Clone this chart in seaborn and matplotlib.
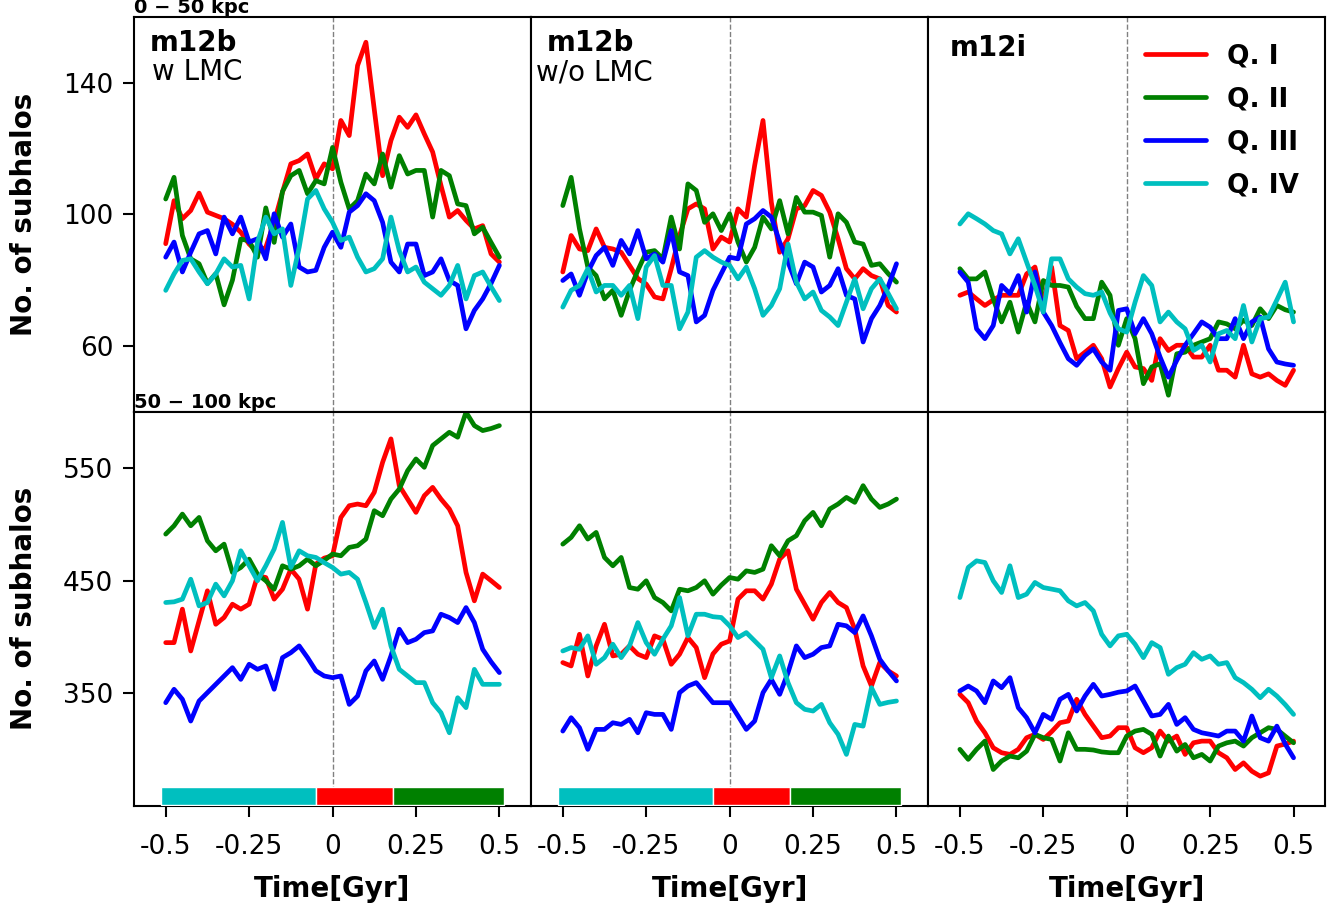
import numpy as np
import pandas as pd
import matplotlib
matplotlib.use("Agg")
import matplotlib.pyplot as plt
import seaborn as sns

# ---------------- data ----------------
TIME = np.linspace(-0.5, 0.5, 41)
QUADS = ["Q. I", "Q. II", "Q. III", "Q. IV"]
PALETTE = {"Q. I": "#ff0000", "Q. II": "#008000", "Q. III": "#0000ff", "Q. IV": "#00bfbf"}

# 0-50 kpc, m12b with LMC
tl_q1 = [91.1, 104.2, 98.7, 101.2, 106.5, 100.7, 99.7, 98.7, 97.0, 94.6, 91.0, 88.5, 90.0, 97.6, 106.8, 115.4, 116.4, 118.4, 110.8, 115.4, 113.9, 128.6, 124.0, 145.3, 152.4, 132.0, 111.8, 122.5, 129.6, 126.5, 130.3, 124.5, 119.0, 108.8, 99.2, 101.2, 98.2, 95.6, 96.6, 88.0, 85.5]
tl_q2 = [104.7, 111.3, 93.6, 86.5, 85.0, 79.0, 82.0, 72.5, 80.0, 92.5, 92.0, 87.0, 102.0, 91.5, 107.0, 111.8, 113.4, 106.3, 110.3, 109.3, 120.4, 109.8, 101.7, 104.2, 112.3, 109.3, 118.4, 108.3, 117.9, 112.3, 113.4, 113.4, 99.2, 113.4, 111.8, 103.2, 102.7, 94.1, 96.1, 91.5, 87.0]
tl_q3 = [87, 91.6, 82.5, 88.5, 94.1, 95.1, 88, 99.2, 94.1, 99.2, 91.6, 92.6, 86.5, 100.2, 93.1, 97.1, 84, 82.5, 83, 90, 94.6, 90, 100.7, 102.7, 106.3, 104.2, 97.6, 85.5, 82.5, 91, 91, 81.4, 82.5, 86.5, 79.9, 78.4, 65.2, 70.8, 74.3, 79, 84.5]
tl_q4 = [76.9, 81.9, 86, 86.5, 82.5, 78.9, 81.9, 86.5, 84, 84.5, 74.3, 91.6, 99.2, 94.1, 95.6, 78.4, 90, 104.7, 107.3, 101.7, 97.6, 92.1, 93.1, 87, 82.5, 83.5, 86.5, 99.2, 89, 82.5, 84, 79.4, 77.4, 75.4, 78.4, 84.5, 74.3, 81.4, 82.5, 78, 73.8]

# 0-50 kpc, m12b without LMC
tm_q1 = [82.5, 93.6, 89.5, 89, 95.6, 90, 89.5, 88.5, 84.5, 80.5, 78.8, 74.9, 74.3, 83.5, 93.6, 101.7, 103.2, 101.7, 89.5, 93.1, 91.6, 101.7, 99.2, 114.9, 128.6, 103.7, 88.5, 92.6, 101.7, 102.7, 107.3, 105.8, 100.7, 92.6, 83.5, 80.4, 83.5, 81.4, 80.4, 72.3, 70.3]
tm_q2 = [102.7, 111.3, 95.6, 84, 81.4, 74.3, 76.9, 69.3, 76.9, 83, 88.5, 89, 86.5, 99.2, 89.5, 109.3, 107.3, 97.6, 100.2, 95.1, 100.2, 91.6, 85.5, 90, 99.2, 95.6, 104.2, 94.1, 105.2, 100.7, 100.7, 99.7, 87, 100.2, 97.6, 91.6, 91, 84.5, 85, 82, 79.4]
tm_q3 = [79.9, 81.9, 75.4, 82.5, 87.5, 90, 84.5, 92.1, 88, 95.1, 86.5, 88, 85.5, 95.1, 82.5, 81.4, 67.3, 69.3, 76.9, 82, 87, 86.5, 97.1, 98.7, 101.2, 99.2, 91.6, 85.5, 78.9, 85.5, 84, 76.4, 78.4, 83.5, 75.4, 74.3, 61.2, 68.3, 72.3, 78, 85]
tm_q4 = [71.8, 76.9, 78.4, 83.5, 76.4, 78.4, 78.4, 75.4, 78.4, 68.3, 84, 87.5, 78.4, 78.4, 65.2, 70.3, 87, 89, 87, 85.5, 84.5, 80.4, 84, 77.4, 69.3, 72.3, 77.4, 91, 79.4, 74.3, 76.4, 70.8, 68.8, 66.2, 73.3, 80.4, 71.3, 77.4, 80.4, 76, 71.3]

# 0-50 kpc, m12i
tr_q1 = [75.4, 76.4, 74.3, 72.3, 74, 75.4, 75.4, 75.4, 81.9, 84, 73.3, 84, 66.2, 64.7, 56.1, 58.1, 60.2, 56.1, 47.5, 53.1, 58.1, 53.6, 53.1, 49.5, 62.2, 58.6, 60.2, 60.2, 56.6, 56.6, 60.2, 52.6, 52.6, 50.5, 60.2, 51.5, 50.5, 51.5, 49.5, 48, 52.6]
tr_q2 = [83.5, 80.4, 80.4, 82.5, 74.3, 67.3, 73.3, 64.2, 73.3, 67.3, 79.9, 78.4, 78.4, 77.9, 72, 68.3, 68.3, 79.4, 75.4, 60.2, 68.3, 62.2, 48.5, 53.6, 54.6, 45, 57.6, 58.1, 60.2, 61.2, 62.2, 67.3, 66.7, 65.2, 67.8, 66.2, 71.3, 68.3, 72.3, 71, 70.3]
tr_q3 = [82.5, 79.4, 65.2, 62.2, 66.2, 78.4, 75.9, 81.4, 70.3, 82.5, 70.3, 66.2, 61, 56.1, 54.1, 57.1, 59.1, 55.1, 52.6, 70.8, 71.3, 63.7, 68.3, 63.7, 56.6, 50.5, 55.6, 60.2, 63.7, 67.3, 65.7, 62.2, 62.2, 68.3, 62.2, 67.3, 68.8, 59.1, 55.1, 54.5, 54.1]
tr_q4 = [97.1, 100.2, 98.7, 97.1, 95.1, 94.1, 88, 92.6, 85.5, 78.4, 70.3, 86.5, 86.5, 80.4, 77.9, 75.9, 75.4, 76.4, 70, 65.2, 64.2, 73.3, 81.4, 78.4, 67.3, 70.3, 67.3, 65.2, 58.6, 60.2, 55.1, 63.7, 64.7, 62.2, 72.3, 61.2, 68.3, 68.8, 74, 79.4, 67.3]

# 50-100 kpc, m12b with LMC
bl_q1 = [395, 395, 424.7, 387.6, 414.3, 441, 411.3, 417.3, 429.1, 424.7, 429.1, 454.3, 452.8, 433.6, 442.4, 460.2, 451.3, 424.7, 464.7, 470, 472.1, 506.1, 516.5, 518, 516.5, 528.4, 555, 575.8, 534.3, 522.4, 510.6, 525.4, 532.8, 522.4, 513.6, 498.7, 457.3, 432.1, 455.8, 450, 443.9]
bl_q2 = [491.3, 498.7, 509.1, 498.7, 506.1, 485.4, 476.5, 482.4, 457.3, 461.7, 469.1, 455.8, 449.9, 442.4, 463.2, 460.2, 463.2, 469.1, 463.2, 468, 473.6, 472.1, 479.5, 481, 486.9, 512.1, 507.6, 522.4, 531.3, 547.6, 558, 550.6, 569.9, 575.8, 581.7, 577.3, 599.5, 587.6, 583.2, 585, 587.6]
bl_q3 = [341.7, 353.6, 344.7, 325.4, 343.2, 350.6, 358, 365.4, 372.8, 362.4, 375.8, 371.3, 374.3, 353.6, 381.7, 386.1, 392.1, 381.7, 370, 365.4, 363.9, 365.4, 340.2, 347.6, 369.9, 378.7, 362.4, 383.2, 406.9, 395, 398, 403.9, 405.4, 420.2, 417.3, 412.8, 426.1, 412.8, 389.1, 378, 368.4]
bl_q4 = [430.6, 431.2, 433.6, 451.3, 427.6, 430.6, 446.9, 436.5, 449.9, 476.5, 463.2, 449.9, 463.2, 478, 501.7, 461.7, 476.5, 472.1, 470.6, 466, 461.7, 455.8, 457.3, 451.3, 430.6, 408.4, 424.7, 392.1, 371.3, 365.4, 359.5, 359.5, 341.7, 332.8, 315, 346.1, 337.3, 371.3, 358, 358, 358]

# 50-100 kpc, m12b without LMC
bm_q1 = [377.3, 374.3, 402.4, 365.4, 392.1, 411.3, 383.2, 384.7, 392.1, 384.7, 381.7, 401, 398, 375.8, 384.7, 399.5, 390.6, 363.9, 385, 393.6, 396.5, 433.6, 441, 441, 433.6, 446.9, 469.1, 476.5, 442.4, 429.1, 415.8, 430.6, 439.5, 430.6, 426.1, 406.9, 374.3, 356.5, 377.3, 370, 365.4]
bm_q2 = [482.4, 488.4, 498.7, 486.9, 492.8, 470.6, 463.2, 470.6, 443.9, 442.4, 449.9, 435, 430.6, 423.2, 442.4, 441, 443.9, 449.9, 438, 446, 452.8, 451.3, 458.7, 457.3, 460.2, 481, 472.1, 485.4, 489.9, 503.2, 510.6, 498.7, 513.6, 518, 523.9, 519.5, 534.3, 522.4, 515, 518, 522.4]
bm_q3 = [316.5, 328.4, 319.5, 300.3, 318, 318, 323.9, 322.4, 326.9, 315, 332.8, 331.3, 331.3, 318, 350.6, 356.5, 359.5, 350.6, 341.7, 341.7, 341.7, 330, 318, 325.4, 350.6, 362.4, 349.1, 368.4, 392.1, 381.7, 384.7, 390.6, 392.1, 411.3, 409.9, 403.9, 418.7, 401, 380.2, 370, 361]
bm_q4 = [387.6, 390.6, 389.1, 401, 375.8, 381.7, 393.6, 381.7, 392.1, 412.8, 395, 384.7, 398, 409.9, 435, 401, 420.2, 420.2, 418, 417.3, 409.9, 399.5, 403.9, 396.5, 389.1, 363.9, 383.2, 359.5, 341.7, 335.8, 334.3, 340.2, 323.9, 313.6, 295.8, 322.4, 320.9, 355, 340.2, 342, 343.2]

# 50-100 kpc, m12i
br_q1 = [349.1, 341.7, 325.4, 315, 301.7, 297.3, 295.8, 300.3, 310.6, 313.6, 309.1, 316, 323.9, 325.4, 344.7, 331.3, 320.9, 310.6, 312.1, 319.5, 319.5, 301.7, 297.3, 301.7, 316.5, 307.6, 312.1, 295.8, 306.1, 307.6, 307.6, 297.3, 292.8, 282.4, 288.3, 280.9, 276.5, 279.4, 303.2, 305, 307.6]
br_q2 = [300.3, 291.4, 300.3, 307.6, 282.4, 289.9, 294.3, 292.8, 298.7, 313.6, 310.6, 309.1, 289.9, 315, 300.3, 300.3, 299.7, 298, 297.3, 297.3, 312.1, 316.5, 318, 313.6, 294.3, 312.1, 298.7, 304.6, 292.8, 295.8, 289.9, 303.2, 306.1, 307.6, 303.2, 310.6, 315, 319.5, 318, 312, 306.1]
br_q3 = [352.1, 356.5, 352.1, 341.7, 361, 355, 363.9, 337.3, 328.4, 315, 331.3, 326.9, 344.7, 349.1, 334.3, 347.6, 358, 347.6, 349.1, 351, 352.1, 356.5, 343.2, 329.9, 331.3, 340.2, 322.4, 328.4, 318, 315, 313.6, 312.1, 316.5, 316.5, 307.6, 329.9, 310.6, 307.6, 320.9, 305, 292.8]
br_q4 = [435, 461.7, 467.6, 466.1, 449.9, 439.5, 463.2, 435, 438, 448.4, 443.9, 442.5, 441, 432.1, 427.6, 430.6, 423.2, 402.4, 392.1, 401, 402.4, 393.6, 381.7, 395, 390.6, 366.9, 372.8, 375.8, 386.1, 380.2, 383.2, 375.8, 377.3, 363.9, 359.5, 353.6, 346.1, 353.6, 347.6, 340, 331.3]

# phase bar (time edges and colours)
BAR_EDGES = [-0.515, -0.05, 0.18, 0.515]
BAR_COLORS = ["#00bfbf", "#ff0000", "#008000"]
BAR_BOTTOM = 251
BAR_HEIGHT = 16

XTICKS = [-0.5, -0.25, 0, 0.25, 0.5]
XTICKLABELS = ["-0.5", "-0.25", "0", "0.25", "0.5"]
YTICKS_TOP = [60, 100, 140]
YTICKS_BOT = [350, 450, 550]

PANELS = [
    [(tl_q1, tl_q2, tl_q3, tl_q4), (tm_q1, tm_q2, tm_q3, tm_q4), (tr_q1, tr_q2, tr_q3, tr_q4)],
    [(bl_q1, bl_q2, bl_q3, bl_q4), (bm_q1, bm_q2, bm_q3, bm_q4), (br_q1, br_q2, br_q3, br_q4)],
]

# ---------------- plot ----------------
sns.set_style("ticks")
plt.rcParams["font.family"] = ["DejaVu Sans"]
plt.rcParams["text.color"] = "black"
plt.rcParams["axes.labelcolor"] = "black"
plt.rcParams["xtick.color"] = "black"
plt.rcParams["ytick.color"] = "black"
plt.rcParams["axes.edgecolor"] = "black"

fig = plt.figure(figsize=(13.4, 9.09), dpi=100)
axes = fig.subplots(2, 3, sharex=True, sharey="row")
fig.subplots_adjust(left=0.1, right=0.989, top=0.981, bottom=0.1133, wspace=0, hspace=0)

for r in range(2):
    for c in range(3):
        ax = axes[r, c]
        series = PANELS[r][c]
        df = pd.DataFrame({
            "Time": np.tile(TIME, 4),
            "N": np.concatenate([np.asarray(s, float) for s in series]),
            "Quadrant": np.repeat(QUADS, len(TIME)),
        })
        sns.lineplot(data=df, x="Time", y="N", hue="Quadrant", hue_order=QUADS,
                     palette=PALETTE, lw=3.4, ax=ax, legend=False,
                     estimator=None, errorbar=None, sort=False)
        if r == 0 and c == 2:
            ax.legend(ax.lines[:4], QUADS, loc="upper right", frameon=False,
                      prop={"weight": "bold", "size": 19}, handlelength=2.3,
                      handletextpad=0.8, labelspacing=0.64, borderaxespad=0.6)
        ax.axvline(0, color="gray", lw=1, ls="--", zorder=0)
        if r == 1 and c < 2:
            ax.barh(y=BAR_BOTTOM, width=np.diff(BAR_EDGES), left=BAR_EDGES[:-1],
                    height=BAR_HEIGHT, color=BAR_COLORS, align="edge", zorder=3)
        for sp in ax.spines.values():
            sp.set_linewidth(1.5)
            sp.set_color("black")
        ax.tick_params(axis="both", which="major", direction="out", length=8,
                       width=1.5, labelsize=19, pad=7, color="black",
                       labelcolor="black")
        ax.tick_params(axis="x", pad=12)
        ax.set_xlabel("")
        ax.set_ylabel("")
        if c > 0:
            ax.tick_params(axis="y", left=False, labelleft=False)
        if r == 0:
            ax.tick_params(axis="x", bottom=False, labelbottom=False)
        else:
            ax.set_xlabel("Time[Gyr]", fontsize=20, fontweight="bold", labelpad=11)
        if c == 0:
            ax.set_ylabel("No. of subhalos", fontsize=20, fontweight="bold", labelpad=18)

axes[0, 0].set_xlim(-0.595, 0.595)
for ax in axes[1]:
    ax.set_xticks(XTICKS)
    ax.set_xticklabels(XTICKLABELS)
axes[0, 0].set_ylim(40, 160)
axes[0, 0].set_yticks(YTICKS_TOP)
axes[1, 0].set_ylim(250, 600)
axes[1, 0].set_yticks(YTICKS_BOT)

# annotations
axes[0, 0].text(0.0, 1.0, "0 \u2212 50 kpc", transform=axes[0, 0].transAxes,
                ha="left", va="bottom", fontsize=14, fontweight="bold")
axes[1, 0].text(0.0, 1.0, "50 \u2212 100 kpc", transform=axes[1, 0].transAxes,
                ha="left", va="bottom", fontsize=14, fontweight="bold", zorder=10)

axes[0, 0].text(0.04, 0.935, "m12b", transform=axes[0, 0].transAxes, ha="left",
                va="center", fontsize=20, fontweight="bold")
axes[0, 0].text(0.045, 0.86, "w LMC", transform=axes[0, 0].transAxes, ha="left",
                va="center", fontsize=20)
axes[0, 1].text(0.04, 0.935, "m12b", transform=axes[0, 1].transAxes, ha="left",
                va="center", fontsize=20, fontweight="bold")
axes[0, 1].text(0.013, 0.86, "w/o LMC", transform=axes[0, 1].transAxes, ha="left",
                va="center", fontsize=20)
axes[0, 2].text(0.055, 0.922, "m12i", transform=axes[0, 2].transAxes, ha="left",
                va="center", fontsize=20, fontweight="bold")

fig.savefig("out.png", dpi=100)
